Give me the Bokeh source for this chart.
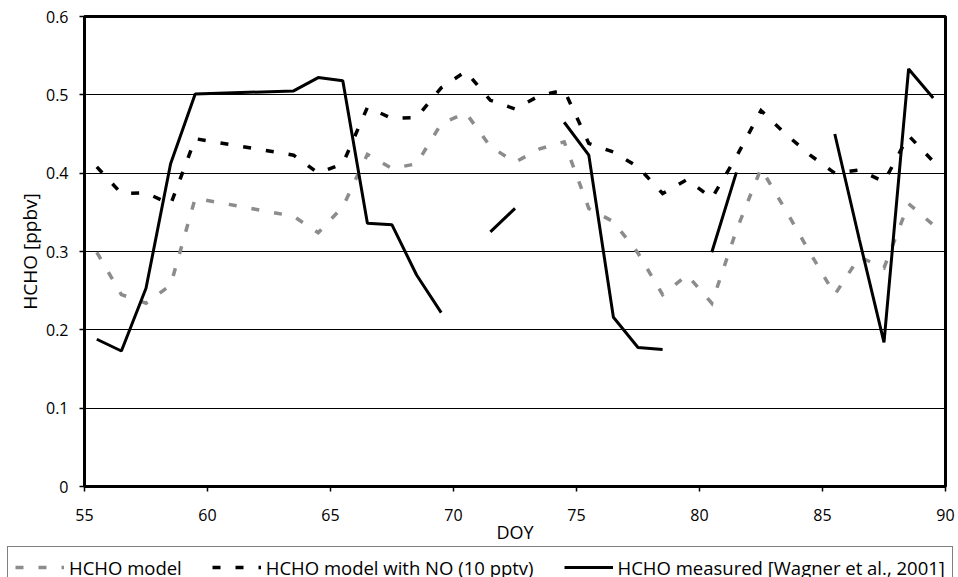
import math

from bokeh.embed import file_html
from bokeh.layouts import column
from bokeh.models import (ColumnDataSource, FixedTicker, Legend, LegendItem,
                          Range1d)
from bokeh.plotting import figure
from bokeh.resources import INLINE

# Day of year of each sample
doy = [55.5, 56.5, 57.5, 58.5, 59.5, 63.5, 64.5, 65.5, 66.5, 67.5, 68.5,
       69.5, 70.5, 71.5, 72.5, 73.5, 74.5, 75.5, 76.5, 77.5, 78.5, 79.5,
       80.5, 81.5, 82.5, 83.5, 84.5, 85.5, 86.5, 87.5, 88.5, 89.5]

# Modelled HCHO (ppbv)
hcho_model = [0.299, 0.245, 0.234, 0.257, 0.368, 0.345, 0.324, 0.357, 0.424,
              0.406, 0.412, 0.463, 0.477, 0.434, 0.414, 0.431, 0.440, 0.355,
              0.338, 0.298, 0.245, 0.270, 0.234, 0.327, 0.406, 0.353, 0.298,
              0.245, 0.293, 0.279, 0.361, 0.334]

# Modelled HCHO with 10 pptv NO (ppbv)
hcho_model_no = [0.408, 0.374, 0.375, 0.360, 0.444, 0.423, 0.400, 0.412,
                 0.484, 0.470, 0.471, 0.509, 0.530, 0.493, 0.482, 0.499,
                 0.506, 0.438, 0.427, 0.408, 0.374, 0.392, 0.368, 0.421,
                 0.480, 0.450, 0.423, 0.400, 0.404, 0.389, 0.448, 0.415]

nan = math.nan
# Measured HCHO (ppbv); NaN marks days without a measurement
hcho_measured = [0.188, 0.173, 0.253, 0.412, 0.501, 0.505, 0.522, 0.518,
                 0.336, 0.334, 0.270, 0.222, nan, 0.325, 0.355, nan,
                 0.465, 0.423, 0.216, 0.1775, 0.175, nan, 0.299, 0.401,
                 nan, nan, nan, 0.450, 0.315, 0.184, 0.533, 0.496]

x_ticks = [55, 60, 65, 70, 75, 80, 85, 90]
y_ticks = [0, 0.1, 0.2, 0.3, 0.4, 0.5, 0.6]
y_tick_labels = ["0", "0.1", "0.2", "0.3", "0.4", "0.5", "0.6"]

series_labels = ["HCHO model", "HCHO model with NO (10 pptv)",
                 "HCHO measured [Wagner et al., 2001]"]

FONT = "Open Sans"
GREY = "#8c8c8c"

source = ColumnDataSource(dict(doy=doy, model=hcho_model,
                               model_no=hcho_model_no,
                               measured=hcho_measured))

# ---- main chart -----------------------------------------------------------
p = figure(width=958, height=546, output_backend="svg", toolbar_location=None,
           x_range=Range1d(55, 90), y_range=Range1d(0, 0.6),
           min_border_left=84, min_border_right=13, min_border_top=16,
           min_border_bottom=59)
p.frame_align = False

p.background_fill_color = "white"
p.border_fill_color = "white"
p.outline_line_color = "black"
p.outline_line_width = 3

# grid: horizontal lines only
p.xgrid.grid_line_color = None
p.ygrid.grid_line_color = "black"
p.ygrid.grid_line_width = 1
p.ygrid.ticker = FixedTicker(ticks=y_ticks)

# axes
p.xaxis.ticker = FixedTicker(ticks=x_ticks)
p.yaxis.ticker = FixedTicker(ticks=y_ticks)
p.yaxis.major_label_overrides = dict(zip(y_ticks, y_tick_labels))
for ax in (p.xaxis[0], p.yaxis[0]):
    ax.axis_line_color = "black"
    ax.axis_line_width = 3
    ax.major_tick_line_color = "black"
    ax.major_tick_line_width = 1.5
    ax.major_tick_in = 0
    ax.major_tick_out = 5
    ax.minor_tick_line_color = None
    ax.major_label_text_font = FONT
    ax.major_label_text_font_size = "16px"
    ax.major_label_text_color = "black"
    ax.axis_label_text_font = FONT
    ax.axis_label_text_font_style = "normal"
    ax.axis_label_text_color = "black"

p.xaxis.axis_label = "DOY"
p.yaxis.axis_label = "HCHO [ppbv]"
p.xaxis.axis_label_text_font_size = "18px"
p.yaxis.axis_label_text_font_size = "19px"
p.xaxis.major_label_standoff = 17
p.yaxis.major_label_standoff = 11
p.xaxis.axis_label_standoff = -4
p.yaxis.axis_label_standoff = 0

line_styles = [
    dict(line_color=GREY, line_width=3.5, line_dash="8 15", line_join="miter"),
    dict(line_color="black", line_width=3.5, line_dash="8 15",
         line_join="miter"),
    dict(line_color="black", line_width=3),
]

p.line("doy", "model", source=source, **line_styles[0])
p.line("doy", "model_no", source=source, **line_styles[1])
p.line("doy", "measured", source=source, **line_styles[2])

# ---- legend strip underneath ----------------------------------------------
leg = figure(width=958, height=31, output_backend="svg", toolbar_location=None,
             x_range=Range1d(0, 1), y_range=Range1d(0, 1),
             x_axis_type=None, y_axis_type=None, min_border=0)
leg.frame_align = False
leg.outline_line_color = None
leg.xgrid.grid_line_color = None
leg.ygrid.grid_line_color = None
leg.background_fill_color = "white"
leg.border_fill_color = "white"

keys = [leg.line(x=[nan], y=[nan], **style) for style in line_styles]

legend = Legend(
    items=[LegendItem(label=lab, renderers=[r])
           for lab, r in zip(series_labels, keys)],
    orientation="horizontal",
    location=(7, -11),
    padding=7,
    spacing=30,
    margin=0,
    glyph_width=49,
    glyph_height=26,
    label_height=26,
    label_standoff=5,
    border_line_color="black",
    border_line_width=1.5,
    background_fill_color="white",
    background_fill_alpha=1,
    label_text_font=FONT,
    label_text_font_size="18.5px",
    label_text_color="black",
)
leg.add_layout(legend, "center")

page = column(p, leg, spacing=0)
open("out.html", "w").write(file_html(page, INLINE))
